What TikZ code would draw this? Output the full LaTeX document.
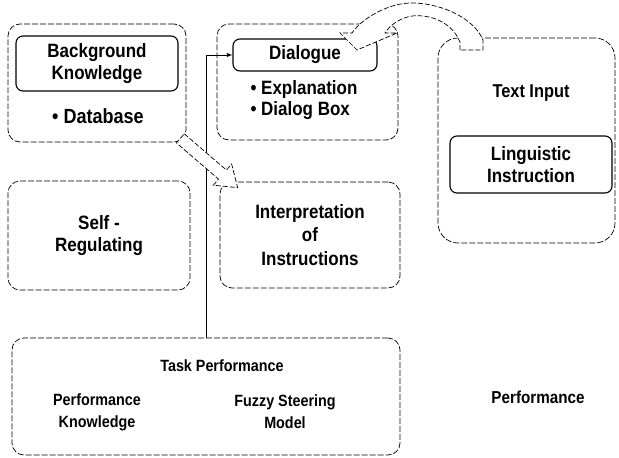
\documentclass[tikz,border=0pt]{standalone}
\usepackage{fontspec}
\setmainfont{Liberation Sans}[FakeStretch=0.88]
\usetikzlibrary{calc}

\begin{document}
\begin{tikzpicture}[x=1pt, y=-1pt,
    outerbox/.style={draw, dash pattern=on 6pt off 2pt, line width=0.7pt, rounded corners=12pt, inner sep=0pt},
    innerbox/.style={draw, line width=1.1pt, rounded corners=7pt, inner sep=0pt},
    blockarrow/.style={draw, dash pattern=on 5pt off 2pt, line width=0.7pt, fill=white},
    boldtext/.style={font=\fontsize{19.3}{21.5}\selectfont\bfseries, align=center},
    plaintext/.style={font=\fontsize{16.3}{20}\selectfont\bfseries, align=center}]
    \useasboundingbox (0,0) rectangle (619,458);

    \node[outerbox, minimum width=178pt, minimum height=118pt] (bgOuter) at (97,83) {};
    \node[innerbox, minimum width=162pt, minimum height=55pt] (bgInner) at (97,63.5) {};
    \node[boldtext] (bgLabel) at (bgInner) {Background\\Knowledge};
    \node[boldtext, font=\fontsize{20.5}{22}\selectfont\bfseries] (database) at (98,116) {\textbullet\ Database};

    \node[outerbox, minimum width=181pt, minimum height=116pt] (dlgOuter) at (307.5,82) {};
    \node[innerbox, minimum width=144pt, minimum height=32pt] (dlgInner) at (305,55) {};
    \node[boldtext] (dlgLabel) at (dlgInner) {Dialogue};
    \node[boldtext, align=left] (dlgItems) at (304,100) {\textbullet\ Explanation\\\textbullet\ Dialog Box};

    \node[outerbox, rounded corners=20pt, minimum width=177pt, minimum height=205pt] (txtOuter) at (526.5,140.5) {};
    \node[plaintext, font=\fontsize{18.6}{21}\selectfont\bfseries] (txtLabel) at (531,93) {Text Input};
    \node[innerbox, minimum width=162pt, minimum height=57pt] (lingInner) at (531,164.5) {};
    \node[boldtext] (lingLabel) at (lingInner) {Linguistic\\Instruction};

    \node[outerbox, minimum width=182pt, minimum height=109pt] (selfReg) at (99,235.5) {};
    \node[boldtext] (selfLabel) at (selfReg) {Self -\\Regulating};

    \node[outerbox, minimum width=180pt, minimum height=106pt] (interp) at (310,235) {};
    \node[boldtext, font=\fontsize{19.3}{23.5}\selectfont\bfseries] (interpLabel) at (interp) {Interpretation\\of\\Instructions};

    \node[outerbox, minimum width=388pt, minimum height=117pt] (task) at (206,396.5) {};
    \node[plaintext] (taskLabel) at (222,366) {Task Performance};
    \node[plaintext, font=\fontsize{16.3}{22}\selectfont\bfseries] (perfKnow) at (97,412) {Performance\\Knowledge};
    \node[plaintext, font=\fontsize{16.3}{22}\selectfont\bfseries] (fuzzy) at (285,412) {Fuzzy Steering\\Model};

    \node[plaintext, font=\fontsize{17.3}{20}\selectfont\bfseries] (perf) at (538,397) {Performance};

    \draw[line width=0.9pt, -latex] (task.north) |- (dlgInner.west);

    \coordinate (tail) at ($(bgOuter.south east)+(-6,-4)$);
    \coordinate (tip) at ($(interp.north west)+(18,6)$);
    \coordinate (base) at ($(tip)!20pt!(tail)$);
    \draw[blockarrow] ($(tail)!6pt!90:(tip)$) -- ($(base)!6pt!90:(tip)$)
        -- ($(base)!14pt!90:(tip)$) -- (tip) -- ($(base)!14pt!-90:(tip)$)
        -- ($(base)!6pt!-90:(tip)$) -- ($(tail)!6pt!-90:(tip)$) -- cycle;

    \draw[blockarrow] (460,50) -- (460,42) .. controls (452,22) and (430,14) .. (412,16)
        .. controls (400,18) and (390,25) .. (385,33) -- (397,33) -- (357,50) -- (340,33)
        -- (352,33) .. controls (362,18) and (390,2) .. (414,3)
        .. controls (445,4) and (475,20) .. (483,40) -- (483,50) -- cycle;
\end{tikzpicture}
\end{document}
